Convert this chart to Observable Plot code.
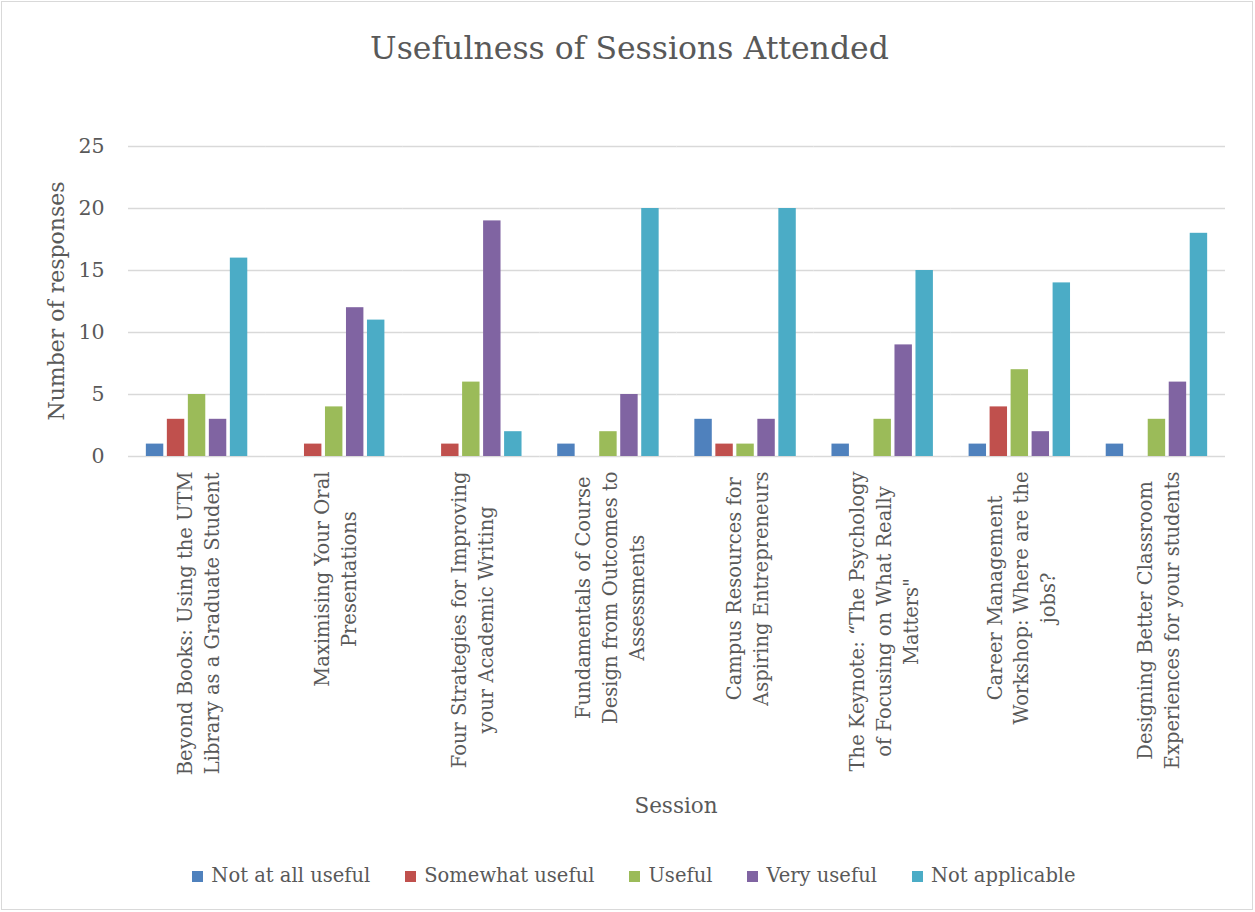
<!DOCTYPE html>
<html>
<head>
<meta charset="utf-8">
<script src="https://cdn.jsdelivr.net/npm/d3@7"></script>
<script src="https://cdn.jsdelivr.net/npm/@observablehq/plot@0.6"></script>
<style>
  html, body { margin: 0; padding: 0; background: #fff; }
  body { position: relative; width: 1255px; height: 912px; overflow: hidden; font-family: "DejaVu Serif", serif; color: #595959; }
  #frame { position: absolute; left: 1px; top: 1px; width: 1252px; height: 909px; box-sizing: border-box; border: 1px solid #d9d9d9; }
  #title { position: absolute; left: 0; top: 28px; width: 1259px; text-align: center; font-size: 31.5px; line-height: 40px; }
  #ylabel { position: absolute; left: 57px; top: 301px; transform: translate(-50%, -50%) rotate(-90deg); font-size: 22px; white-space: nowrap; line-height: 1; }
  #xlabel { position: absolute; left: 576px; top: 791px; width: 200px; text-align: center; font-size: 21.5px; line-height: 30px; }
  #chart { position: absolute; left: 0; top: 120px; }
  #legend { position: absolute; left: 0; top: 862px; width: 1268px; display: flex; justify-content: center; gap: 35px; font-size: 19.5px; line-height: 28px; }
  .item { display: flex; align-items: center; }
  .sw { width: 11px; height: 11px; margin-right: 8px; }
</style>
</head>
<body>
<div id="frame"></div>
<div id="title">Usefulness of Sessions Attended</div>
<div id="ylabel">Number of responses</div>
<div id="chart"></div>
<div id="xlabel">Session</div>
<div id="legend"></div>
<script>
const sessions = [
  "Beyond Books: Using the UTM Library as a Graduate Student",
  "Maximising Your Oral Presentations",
  "Four Strategies for Improving your Academic Writing",
  "Fundamentals of Course Design from Outcomes to Assessments",
  "Campus Resources for Aspiring Entrepreneurs",
  "The Keynote: “The Psychology of Focusing on What Really Matters\"",
  "Career Management Workshop: Where are the jobs?",
  "Designing Better Classroom Experiences for your students"
];
const sessionLabels = [
  ["Beyond Books: Using the UTM", "Library as a Graduate Student"],
  ["Maximising Your Oral", "Presentations"],
  ["Four Strategies for Improving", "your Academic Writing"],
  ["Fundamentals of Course", "Design from Outcomes to", "Assessments"],
  ["Campus Resources for", "Aspiring Entrepreneurs"],
  ["The Keynote: “The Psychology", "of Focusing on What Really", "Matters\""],
  ["Career Management", "Workshop: Where are the", "jobs?"],
  ["Designing Better Classroom", "Experiences for your students"]
];
const seriesNames = ["Not at all useful", "Somewhat useful", "Useful", "Very useful", "Not applicable"];
const notAtAllUseful = [1, 0, 0, 1, 3, 1, 1, 1];
const somewhatUseful = [3, 1, 1, 0, 1, 0, 4, 0];
const useful = [5, 4, 6, 2, 1, 3, 7, 3];
const veryUseful = [3, 12, 19, 5, 3, 9, 2, 6];
const notApplicable = [16, 11, 2, 20, 20, 15, 14, 18];
const yTicks = [0, 5, 10, 15, 20, 25];
const seriesColors = ["#4F81BD", "#C0504D", "#9BBB59", "#8064A2", "#4BACC6"];

const seriesValues = [notAtAllUseful, somewhatUseful, useful, veryUseful, notApplicable];
const data = sessions.flatMap((s, i) =>
  seriesNames.map((k, j) => ({session: s, series: k, value: seriesValues[j][i]}))
);

const FONT = '"DejaVu Serif", serif';
const LABEL_SIZE = 19.5;
const ctx = document.createElement("canvas").getContext("2d");
ctx.font = `${LABEL_SIZE}px "DejaVu Serif"`;

const labelMarks = sessions.map((s, i) => {
  const lines = sessionLabels[i];
  const maxLen = Math.max(...lines.map(l => ctx.measureText(l).width));
  return Plot.text([{session: s, label: lines.join("\n")}], {
    fx: "session",
    text: "label",
    frameAnchor: "bottom",
    rotate: -90,
    textAnchor: "middle",
    lineAnchor: "middle",
    lineHeight: 1.38,
    dy: 15 + maxLen / 2,
    fontSize: LABEL_SIZE,
    fill: "#595959"
  });
});

const chart = Plot.plot({
  width: 1255,
  height: 710,
  marginTop: 26,
  marginBottom: 374,
  marginLeft: 128,
  marginRight: 30,
  style: {fontFamily: FONT, fontSize: "20.5px", color: "#595959", background: "transparent", overflow: "visible"},
  fx: {domain: sessions, padding: 0, axis: null, round: false},
  x: {domain: seriesNames, paddingInner: 0.17, paddingOuter: 0.85, axis: null, round: false},
  y: {domain: [0, 25], ticks: yTicks, tickSize: 0, tickPadding: 24, label: null},
  color: {domain: seriesNames, range: seriesColors},
  marks: [
    Plot.ruleY(yTicks, {stroke: "#d9d9d9", strokeWidth: 1.5}),
    Plot.barY(data, {fx: "session", x: "series", y: "value", fill: "series"}),
    ...labelMarks
  ]
});
document.getElementById("chart").appendChild(chart);

const legend = document.getElementById("legend");
seriesNames.forEach((name, j) => {
  const item = document.createElement("div");
  item.className = "item";
  const sw = document.createElement("div");
  sw.className = "sw";
  sw.style.background = seriesColors[j];
  const t = document.createElement("span");
  t.textContent = name;
  item.appendChild(sw);
  item.appendChild(t);
  legend.appendChild(item);
});
</script>
</body>
</html>
